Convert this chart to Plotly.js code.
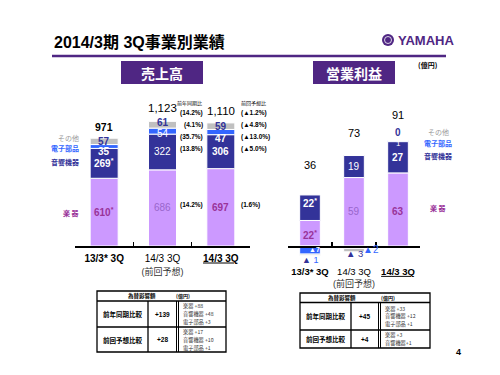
<!DOCTYPE html>
<html><head><meta charset="utf-8">
<script src="https://cdn.plot.ly/plotly-3.0.1.min.js"></script>
<style>html,body{margin:0;padding:0;background:#fff}</style>
</head><body><div id="chart" style="width:500px;height:375px"></div>
<script>
// ---------- data ----------
const categories = ["13/3* 3Q", "14/3 3Q (前回予想)", "14/3 3Q"];
const tickLabels = ["<b>13/3* 3Q</b>", "14/3 3Q<br><span style='font-size:9px;color:#333'>(前回予想)</span>", "<b><u>14/3 3Q</u></b>"];
const segmentNames = ["楽 器", "音響機器", "電子部品", "その他"];

const salesInstruments = [610, 686, 697];
const salesAudio = [269, 322, 306];
const salesElectronic = [35, 54, 47];
const salesOther = [57, 61, 59];
const salesTotals = ["971", "1,123", "1,110"];
const salesStars = { instruments: ["*", "", ""], audio: ["*", "", ""] };

const profitInstruments = [22, 59, 63];
const profitAudio = [22, 19, 27];
const profitElectronic = [-7, -2, 1];
const profitOther = [-1, -3, 0];
const profitTotals = ["36", "73", "91"];
const profitStars = { instruments: ["*", "", ""], audio: ["*", "", ""] };

const yoyTitle = "前年同期比";
const yoyTexts = ["(14.2%)", "(4.1%)", "(35.7%)", "(13.8%)", "(14.2%)"];   // total, other, electronic, audio, instruments
const planTitle = "前回予想比";
const planTexts = ["(▲1.2%)", "(▲4.8%)", "(▲13.0%)", "(▲5.0%)", "(1.6%)"];

const salesTitle = "売上高";
const profitTitle = "営業利益";
const unitText = "(億円)";
const pageTitle = "2014/3期 3Q事業別業績";
const brandText = "YAMAHA";
const pageNumber = "4";

const fxTitle = "為替影響額";
const fxRowNames = ["前年同期比較", "前回予想比較"];
const salesFxTotals = ["+139", "+28"];
const salesFxDetails = [["楽器 +88", "音響機器 +48", "電子部品 +3"], ["楽器 +17", "音響機器 +10", "電子部品 +1"]];
const profitFxTotals = ["+45", "+4"];
const profitFxDetails = [["楽器 +33", "音響機器 +12", "電子部品 +1"], ["楽器 +3", "音響機器+1"]];

// ---------- styling ----------
const F = "Liberation Sans, Arial, Noto Sans CJK JP, sans-serif";
const FJ = "Noto Sans CJK JP, sans-serif";
const C_INST = "#CC99FF", C_AUDIO = "#333399", C_ELEC = "#3366FF", C_OTHER = "#C0C0C0";
const C_PURPLE_TXT = "#993399", C_PURPLE_TXT2 = "#9966CC";
const C_BRAND = "#4F2683";
const X = p => p / 500, Y = p => 1 - p / 375;

const colors = [C_INST, C_AUDIO, C_ELEC, C_OTHER];
const salesSeries = [salesInstruments, salesAudio, salesElectronic, salesOther];
const profitSeries = [profitInstruments, profitAudio, profitElectronic, profitOther];

const traces = [];
salesSeries.forEach((vals, k) => traces.push({
  type: "bar", x: categories, y: vals, name: segmentNames[k], xaxis: "x", yaxis: "y",
  width: 0.48, marker: { color: colors[k], line: { color: "#fff", width: 1 } },
  hoverinfo: "skip", showlegend: false
}));
profitSeries.forEach((vals, k) => traces.push({
  type: "bar", x: categories, y: vals, name: segmentNames[k], xaxis: "x2", yaxis: "y2",
  width: 0.47, marker: { color: colors[k], line: { color: "#fff", width: 1 } },
  hoverinfo: "skip", showlegend: false
}));

// stacking centers (relative mode)
function centers(series) {
  const pos = [0, 0, 0], neg = [0, 0, 0];
  return series.map(vals => vals.map((v, i) => {
    if (v >= 0) { const c = pos[i] + v / 2; pos[i] += v; return c; }
    const c = neg[i] + v / 2; neg[i] += v; return c;
  }));
}
const sC = centers(salesSeries), pC = centers(profitSeries);
const fmt = v => v < 0 ? "▲" + Math.abs(v) : String(v);

const ann = [];
function A(o) {
  ann.push(Object.assign({ showarrow: false, xanchor: "center", yanchor: "middle" }, o));
}
function dataLabel(xr, yr, i, y, text, color, bold, size, yshift, xshift) {
  A({ xref: xr, yref: yr, x: categories[i], y: y, yshift: yshift || 0, xshift: xshift || 0,
      text: bold ? "<b>" + text + "</b>" : text, font: { family: F, size: size || 10, color: color } });
}

// sales labels
const salesBold = [true, false, true];
const salesShift = [[0, 0, 0], [0, 0, 0], [-5.5, -2, -6], [0, 2, 0]];
for (let i = 0; i < 3; i++) {
  const tc = [i === 1 ? C_PURPLE_TXT2 : C_PURPLE_TXT, "#fff", "#fff", C_AUDIO];
  salesSeries.forEach((vals, k) => {
    let t = fmt(vals[i]);
    if (k === 0 && salesStars.instruments[i]) t += "<sup>" + salesStars.instruments[i] + "</sup>";
    if (k === 1 && salesStars.audio[i]) t += "<sup>" + salesStars.audio[i] + "</sup>";
    const bold = salesBold[i] || k === 3;
    dataLabel("x", "y", i, sC[k][i], t, tc[k], bold, 10, salesShift[k][i]);
  });
  const tot = salesSeries.reduce((s, v) => s + v[i], 0);
  dataLabel("x", "y", i, tot, salesTotals[i], "#000", i === 0, i === 0 ? 10.5 : 11.5, [11, 13, 12][i]);
}

// profit labels
const profitBold = [true, false, true];
for (let i = 0; i < 3; i++) {
  let t = fmt(profitInstruments[i]) + (profitStars.instruments[i] ? "<sup>" + profitStars.instruments[i] + "</sup>" : "");
  dataLabel("x2", "y2", i, pC[0][i], t, i === 1 ? C_PURPLE_TXT2 : C_PURPLE_TXT, profitBold[i], 10, [-2, 0, -2][i]);
  t = fmt(profitAudio[i]) + (profitStars.audio[i] ? "<sup>" + profitStars.audio[i] + "</sup>" : "");
  dataLabel("x2", "y2", i, pC[1][i], t, "#fff", profitBold[i], 10, [4.5, 0, 0][i]);
}
// electronic
dataLabel("x2", "y2", 0, pC[2][0], fmt(profitElectronic[0]), "#fff", true, 7, 1, 4);
dataLabel("x2", "y2", 1, pC[2][1], fmt(profitElectronic[1]), C_ELEC, false, 10, -2, 17);
dataLabel("x2", "y2", 2, pC[2][2], fmt(profitElectronic[2]), "#fff", false, 8, -2);
// other
A({ xref: "x2", yref: "y2", x: categories[0], y: pC[3][0], yshift: -5,
    text: "<span style='color:" + C_AUDIO + "'>▲</span> <span style='color:" + C_ELEC + "'>" + Math.abs(profitOther[0]) + "</span>",
    font: { family: F, size: 9 } });
A({ xref: "x2", yref: "y2", x: categories[1], y: pC[3][1], yshift: -3,
    text: "▲ " + Math.abs(profitOther[1]), font: { family: F, size: 9.5, color: C_AUDIO } });
A({ xref: "x2", yref: "y2", x: categories[2], y: profitSeries.reduce((s, v) => s + Math.max(v[2], 0), 0), yshift: 8,
    text: "<b>" + profitOther[2] + "</b>", font: { family: F, size: 10, color: C_AUDIO } });
for (let i = 0; i < 3; i++) {
  const tot = profitSeries.reduce((s, v) => s + v[i], 0);
  dataLabel("x2", "y2", i, tot, profitTotals[i], "#000", false, 11, [39, 28, 25][i]);
}

// segment name labels
const segY = [213, 162, 148, 138];
const segCol = [C_PURPLE_TXT, C_AUDIO, C_ELEC, "#999999"];
segmentNames.forEach((n, k) => {
  A({ xref: "paper", yref: "paper", x: X(81), y: Y(segY[k]), xanchor: "right",
      text: k === 3 ? n : "<b>" + n + "</b>", font: { family: FJ, size: 7, color: segCol[k] } });
});
const segY2 = [208, 156, 142.5, 132];
segmentNames.forEach((n, k) => {
  A({ xref: "paper", yref: "paper", x: X(438), y: Y(segY2[k]),
      text: k === 3 ? n : "<b>" + n + "</b>", font: { family: FJ, size: 7, color: segCol[k] } });
});

// growth notes
A({ xref: "paper", yref: "paper", x: X(204), y: Y(103), xanchor: "right", text: yoyTitle, font: { family: FJ, size: 5, color: "#000" } });
A({ xref: "paper", yref: "paper", x: X(239), y: Y(103), xanchor: "left", text: planTitle, font: { family: FJ, size: 5, color: "#000" } });
const noteY = [113, 125, 137, 149, 205];
yoyTexts.forEach((t, j) => A({ xref: "paper", yref: "paper", x: X(205), y: Y(noteY[j]), xanchor: "right",
  text: "<b>" + t + "</b>", font: { family: F, size: 6.5, color: "#000" } }));
planTexts.forEach((t, j) => A({ xref: "paper", yref: "paper", x: X(239), y: Y(noteY[j]), xanchor: "left",
  text: "<b>" + t + "</b>", font: { family: F, size: 6.5, color: "#000" } }));

// headings
A({ xref: "paper", yref: "paper", x: X(52), y: Y(42), xanchor: "left",
    text: "<b>" + pageTitle + "</b>", font: { family: F, size: 16, color: "#000" } });
A({ xref: "paper", yref: "paper", x: X(396), y: Y(40), xanchor: "left",
    text: "<b>" + brandText + "</b>", font: { family: "Liberation Sans Narrow, Liberation Sans, Arial", size: 13, color: C_BRAND } });
A({ xref: "paper", yref: "paper", x: X(162), y: Y(73), text: "<b>" + salesTitle + "</b>", font: { family: FJ, size: 14, color: "#fff" } });
A({ xref: "paper", yref: "paper", x: X(354), y: Y(73), text: "<b>" + profitTitle + "</b>", font: { family: FJ, size: 14, color: "#fff" } });
A({ xref: "paper", yref: "paper", x: X(428), y: Y(65), text: "<b>" + unitText + "</b>", font: { family: FJ, size: 7, color: "#000" } });
A({ xref: "paper", yref: "paper", x: X(458), y: Y(352), text: "<b>" + pageNumber + "</b>", font: { family: F, size: 9, color: "#000" } });

const shapes = [
  { type: "line", xref: "paper", yref: "paper", x0: X(52), x1: X(446), y0: Y(56), y1: Y(56), line: { color: C_BRAND, width: 2.5 } },
  { type: "rect", xref: "paper", yref: "paper", x0: X(121), x1: X(203), y0: Y(61), y1: Y(84), fillcolor: C_BRAND, line: { width: 0 } },
  { type: "rect", xref: "paper", yref: "paper", x0: X(313), x1: X(395), y0: Y(61), y1: Y(84), fillcolor: C_BRAND, line: { width: 0 } },
  { type: "circle", xref: "paper", yref: "paper", x0: X(382), x1: X(394), y0: Y(34), y1: Y(46), fillcolor: C_BRAND, line: { width: 0 } },
  { type: "circle", xref: "paper", yref: "paper", x0: X(384.5), x1: X(391.5), y0: Y(36.5), y1: Y(43.5), fillcolor: "rgba(0,0,0,0)", line: { color: "#fff", width: 0.8 } },
];

// tables
function table(g, totals, details) {
  const L = (x0, y0, x1, y1, w) => shapes.push({ type: "line", xref: "paper", yref: "paper",
    x0: X(x0), x1: X(x1), y0: Y(y0), y1: Y(y1), line: { color: "#000", width: w || 1 } });
  shapes.push({ type: "rect", xref: "paper", yref: "paper", x0: X(g.l), x1: X(g.r), y0: Y(g.t), y1: Y(g.b),
    line: { color: "#000", width: 1.3 } });
  L(g.l, g.h, g.r, g.h, 1.3);
  L(g.l, g.m, g.r, g.m, 1.3);
  L(g.c1, g.h, g.c1, g.b, 1.3);
  L(g.c2, g.h, g.c2, g.b, 1);
  L(g.c2 + 2, g.h, g.c2 + 2, g.b, 1);
  A({ xref: "paper", yref: "paper", x: X(g.tx), y: Y((g.t + g.h) / 2), text: "<b>" + fxTitle + "</b>", font: { family: FJ, size: 5.5, color: "#000" } });
  A({ xref: "paper", yref: "paper", x: X(g.ux), y: Y((g.t + g.h) / 2), text: "<b>" + unitText + "</b>", font: { family: FJ, size: 5, color: "#000" } });
  const rows = [[g.h, g.m], [g.m, g.b]];
  rows.forEach((rw, r) => {
    const cy = (rw[0] + rw[1]) / 2;
    A({ xref: "paper", yref: "paper", x: X((g.l + g.c1) / 2), y: Y(cy), text: "<b>" + fxRowNames[r] + "</b>", font: { family: FJ, size: 6.5, color: "#000" } });
    A({ xref: "paper", yref: "paper", x: X((g.c1 + g.c2) / 2), y: Y(cy), text: "<b>" + totals[r] + "</b>", font: { family: F, size: 6.5, color: "#000" } });
    const n = details[r].length, step = g.step;
    details[r].forEach((d, j) => A({ xref: "paper", yref: "paper", x: X(g.c2 + 4), xanchor: "left",
      y: Y(cy + (j - (n - 1) / 2) * step), text: d, font: { family: FJ, size: 5.2, color: "#333" } }));
  });
}
table({ l: 97, r: 226, t: 291, h: 301, m: 327, b: 352, c1: 148, c2: 176.5, tx: 142, ux: 183, step: 8 }, salesFxTotals, salesFxDetails);
table({ l: 300, r: 430, t: 293, h: 302.5, m: 330, b: 348, c1: 351, c2: 378.5, tx: 342, ux: 388, step: 7.5 }, profitFxTotals, profitFxDetails);

// axes ranges from pixel geometry
const domTop = 90, domBot = 300, zeroPx = 246;
const sScale = 0.111, pScale = 1.16;
const yr = s => [-(domBot - zeroPx) / s, (zeroPx - domTop) / s];
const xBase = {
  type: "category", categoryorder: "array", categoryarray: categories, tickvals: categories, ticktext: tickLabels,
  anchor: "free", position: Y(zeroPx), showline: true, linecolor: "#000", linewidth: 1.5,
  ticks: "inside", ticklen: 4, tickcolor: "#000", tickwidth: 1.2, tickson: "boundaries", tickangle: 0,
  tickfont: { family: F, size: 10, color: "#000" }, range: [-0.5, 2.5], showgrid: false, zeroline: false, fixedrange: true
};
const layout = {
  width: 500, height: 375, margin: { l: 0, r: 0, t: 0, b: 0 }, paper_bgcolor: "#fff", plot_bgcolor: "rgba(0,0,0,0)",
  barmode: "relative", bargap: 0, showlegend: false,
  xaxis: Object.assign({}, xBase, { domain: [X(75), X(250)], ticklabelstandoff: 2 }),
  yaxis: { domain: [Y(domBot), Y(domTop)], range: yr(sScale), visible: false, fixedrange: true, anchor: "x" },
  xaxis2: Object.assign({}, xBase, { domain: [X(288), X(420)], ticklabelstandoff: 16, tickfont: { family: F, size: 9.5, color: "#000" } }),
  yaxis2: { domain: [Y(domBot), Y(domTop)], range: yr(pScale), visible: false, fixedrange: true, anchor: "x2" },
  annotations: ann, shapes: shapes
};
Plotly.newPlot("chart", traces, layout, { staticPlot: true, displayModeBar: false });
</script></body></html>
